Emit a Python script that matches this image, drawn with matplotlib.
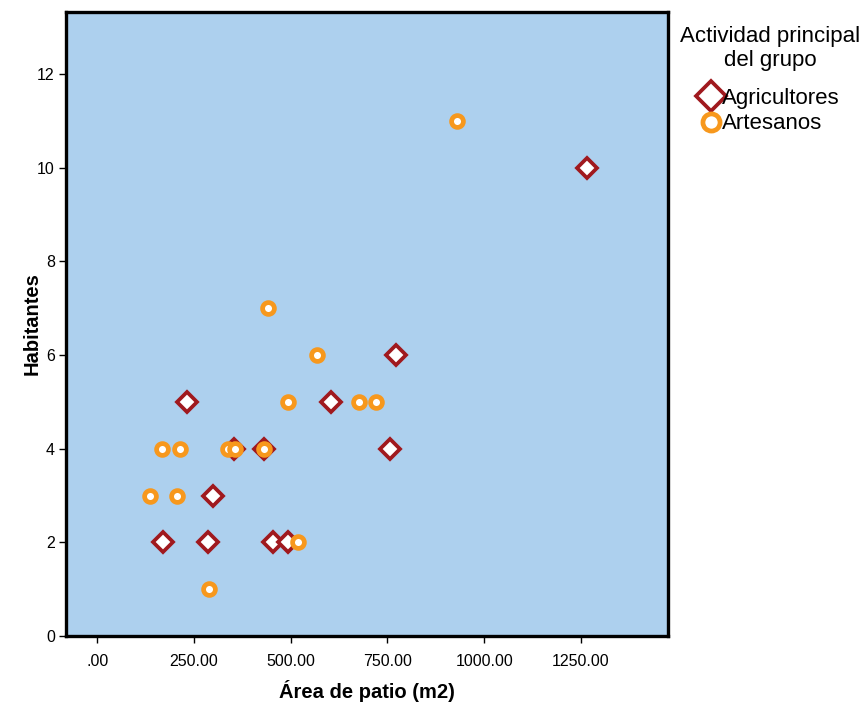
import matplotlib
matplotlib.use("Agg")
import matplotlib.pyplot as plt
from matplotlib.ticker import FuncFormatter

plt.rcParams['font.family'] = ['Liberation Sans', 'DejaVu Sans']

# Agricultores
agri_area = [1265, 772, 603, 756, 231, 352, 430, 300, 171, 286, 455, 492]
agri_hab = [10, 6, 5, 4, 5, 4, 4, 3, 2, 2, 2, 2]

# Artesanos
art_area = [929, 441, 568, 492, 677, 721, 167, 213, 337, 357, 430, 137, 205, 519, 288]
art_hab = [11, 7, 6, 5, 5, 5, 4, 4, 4, 4, 4, 3, 3, 2, 1]

red = "#A0191E"
orange = "#F7981D"
bg = "#ADD0EE"

fig = plt.figure(figsize=(8.68, 7.04), dpi=100)
ax = fig.add_axes([0.076, 0.0966, 0.6936, 0.8864])
ax.set_facecolor(bg)

ax.plot(agri_area, agri_hab, linestyle="none", marker="D", markersize=10.5,
        markerfacecolor="white", markeredgecolor=red, markeredgewidth=2.7,
        label="Agricultores", zorder=3)
ax.plot(art_area, art_hab, linestyle="none", marker="o", markersize=8.5,
        markerfacecolor="white", markeredgecolor=orange, markeredgewidth=3.4,
        label="Artesanos", zorder=4)

ax.set_xlim(-81, 1475)
ax.set_ylim(0, 13.33)
ax.set_xticks([0, 250, 500, 750, 1000, 1250])
ax.set_yticks([0, 2, 4, 6, 8, 10, 12])


def fmt_x(v, pos):
    s = "%.2f" % v
    if s.startswith("0"):
        s = s[1:]
    return s


ax.xaxis.set_major_formatter(FuncFormatter(fmt_x))
ax.yaxis.set_major_formatter(FuncFormatter(lambda v, p: "%d" % v))
ax.tick_params(axis="both", direction="out", length=5, width=1, labelsize=11.5,
               colors="black", pad=3)
ax.tick_params(axis="x", pad=8)

for s in ax.spines.values():
    s.set_linewidth(2.4)
    s.set_color("black")

ax.set_xlabel("Área de patio (m2)", fontsize=14.5, fontweight="bold", labelpad=8)
ax.set_ylabel("Habitantes", fontsize=14.5, fontweight="bold", labelpad=-3)

leg = fig.legend(loc="upper left", bbox_to_anchor=(0.766, 0.985), frameon=False,
                 title="Actividad principal\ndel grupo", fontsize=16,
                 title_fontsize=16, markerscale=1.45, handlelength=0.8,
                 handletextpad=0.1, labelspacing=0.2, borderpad=0.2)
leg.get_title().set_multialignment("center")
leg._legend_box.sep = 12

fig.savefig("out.png", dpi=100)
